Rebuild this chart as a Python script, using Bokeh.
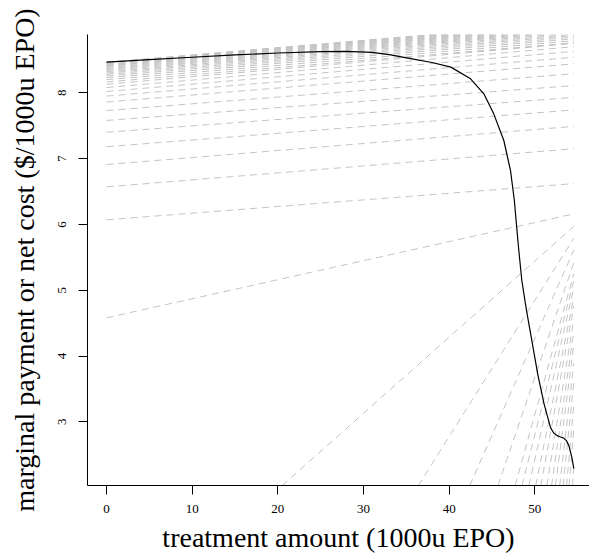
from bokeh.plotting import figure
from bokeh.models import ColumnDataSource, FixedTicker, Range1d
from bokeh.embed import file_html
from bokeh.resources import INLINE

# black curve: marginal payment
curve_x = [0, 5, 10, 15, 20, 25, 28, 31, 33, 35.5, 38, 40.2, 42.5, 44.05, 45.2,
           46.38, 47.16, 47.61, 47.81, 48.13, 48.48, 49.03, 49.65, 50.37, 51.07,
           51.83, 52.2, 52.61, 53.0, 53.38, 53.7, 53.97, 54.3, 54.55]
curve_y = [8.465, 8.505, 8.54, 8.575, 8.605, 8.625, 8.63, 8.615, 8.58, 8.52,
           8.46, 8.39, 8.213, 7.985, 7.68, 7.275, 6.819, 6.363, 6.059, 5.603,
           5.147, 4.691, 4.235, 3.703, 3.277, 2.912, 2.83, 2.79, 2.77, 2.752,
           2.71, 2.638, 2.47, 2.29]

# gray dashed net-cost lines, upper family: value at x=0 and at x=54.55
upper_y0 = [8.465, 8.46, 8.455, 8.45, 8.44, 8.43, 8.42, 8.41, 8.40, 8.385, 8.37,
            8.355, 8.34, 8.32, 8.30, 8.28, 8.255, 8.23, 8.20, 8.165, 8.13, 8.08,
            8.02, 7.95, 7.86, 7.73, 7.58, 7.40, 7.18, 6.91, 6.57, 6.07, 4.58]
upper_y1 = [9.07, 9.06, 9.05, 9.04, 9.03, 9.02, 9.01, 9.00, 8.99, 8.975, 8.96,
            8.945, 8.93, 8.91, 8.89, 8.87, 8.845, 8.82, 8.79, 8.76, 8.75, 8.70,
            8.63, 8.54, 8.44, 8.29, 8.11, 7.93, 7.74, 7.49, 7.15, 6.62, 6.16]

# lower family: x where the line leaves the bottom, value at x=54.55
low_x0 = [20.5, 36.4, 42.4, 45.7, 47.7, 48.5, 49.3, 50.1, 50.7, 51.4, 51.95,
          52.4, 52.9, 53.3, 53.7, 54.0, 54.4]
low_y1 = [5.97, 5.79, 5.61, 5.42, 5.25, 5.15, 5.04, 4.89, 4.76, 4.56, 4.37,
          4.17, 3.89, 3.61, 3.26, 2.91, 2.31]

x_start = 0.0
x_end = 54.55
y_floor = 2.03

x_ticks = [0, 10, 20, 30, 40, 50]
y_ticks = [3, 4, 5, 6, 7, 8]

FONT = "Liberation Serif"

p = figure(width=589, height=560, output_backend="svg", toolbar_location=None,
           x_range=Range1d(-2.217, 56.38), y_range=Range1d(2.032, 8.886),
           min_border_left=87, min_border_right=0, min_border_top=34,
           min_border_bottom=75)
p.outline_line_color = None
p.xgrid.grid_line_color = None
p.ygrid.grid_line_color = None
p.background_fill_color = "white"
p.border_fill_color = "white"

up = ColumnDataSource(dict(x0=[x_start] * len(upper_y0), y0=upper_y0,
                           x1=[x_end] * len(upper_y1), y1=upper_y1))
lo = ColumnDataSource(dict(x0=low_x0, y0=[y_floor] * len(low_x0),
                           x1=[x_end] * len(low_y1), y1=low_y1))
gray = "#C4C4C4"
p.segment("x0", "y0", "x1", "y1", source=up, line_color=gray, line_width=1,
          line_dash="7 5")
p.segment("x0", "y0", "x1", "y1", source=lo, line_color=gray, line_width=1,
          line_dash="7 5")
p.line(curve_x, curve_y, line_color="black", line_width=1.2,
       line_join="round")

for ax in (p.xaxis[0], p.yaxis[0]):
    ax.axis_line_color = "black"
    ax.axis_line_width = 1
    ax.major_tick_out = 9
    ax.major_tick_in = 0
    ax.minor_tick_line_color = None
    ax.major_label_text_font = FONT
    ax.major_label_text_font_size = "13px"
    ax.major_label_text_color = "black"
    ax.axis_label_text_font = FONT
    ax.axis_label_text_font_size = "28px"
    ax.axis_label_text_font_style = "normal"
    ax.axis_label_text_color = "black"

p.xaxis.ticker = FixedTicker(ticks=x_ticks)
p.yaxis.ticker = FixedTicker(ticks=y_ticks)
p.xaxis.axis_label = "treatment amount (1000u EPO)"
p.yaxis.axis_label = "marginal payment or net cost ($/1000u EPO)"
p.yaxis.major_label_orientation = "vertical"
p.xaxis.major_label_standoff = 10
p.xaxis.axis_label_standoff = 6
p.yaxis.major_label_standoff = 12
p.yaxis.axis_label_standoff = 16

open("out.html", "w").write(file_html(p, INLINE))
